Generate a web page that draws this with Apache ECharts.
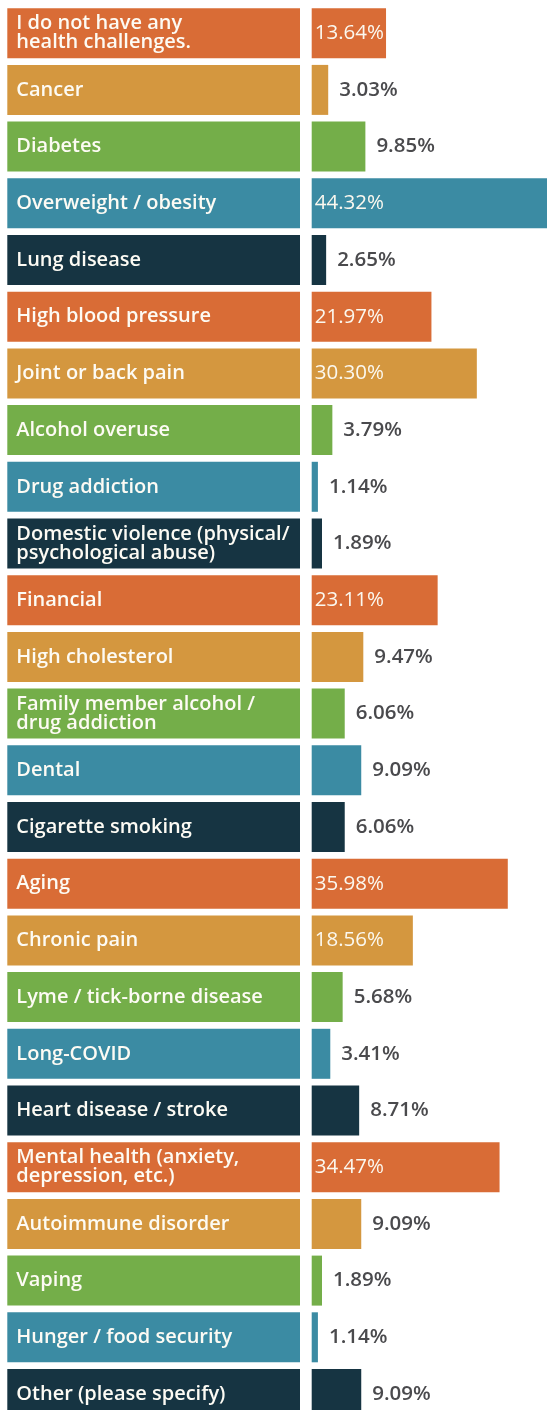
<!DOCTYPE html>
<html>
<head>
<meta charset="utf-8">
<script src="https://cdn.jsdelivr.net/npm/echarts@6/dist/echarts.min.js"></script>
<style>
  html, body { margin: 0; padding: 0; background: #ffffff; overflow: hidden; }
  /* the list runs a little past the bottom of the page, so the last row is cut */
  #chart { width: 547px; height: 1425px; }
</style>
</head>
<body>
<div id="chart"></div>
<script>
// Health challenges reported by respondents (share of respondents, %)
const categories = [
  'I do not have any\nhealth challenges.',
  'Cancer',
  'Diabetes',
  'Overweight / obesity',
  'Lung disease',
  'High blood pressure',
  'Joint or back pain',
  'Alcohol overuse',
  'Drug addiction',
  'Domestic violence (physical/\npsychological abuse)',
  'Financial',
  'High cholesterol',
  'Family member alcohol /\ndrug addiction',
  'Dental',
  'Cigarette smoking',
  'Aging',
  'Chronic pain',
  'Lyme / tick-borne disease',
  'Long-COVID',
  'Heart disease / stroke',
  'Mental health (anxiety,\ndepression, etc.)',
  'Autoimmune disorder',
  'Vaping',
  'Hunger / food security',
  'Other (please specify)'
];

const percentages = [
  13.64, 3.03, 9.85, 44.32, 2.65,
  21.97, 30.30, 3.79, 1.14, 1.89,
  23.11, 9.47, 6.06, 9.09, 6.06,
  35.98, 18.56, 5.68, 3.41, 8.71,
  34.47, 9.09, 1.89, 1.14, 9.09
];

// Row colours repeat in this order down the list
const palette = ['#D96C36', '#D4973F', '#74AE49', '#3B8BA3', '#163442'];

const FONT = '"Open Sans", "Noto Sans", sans-serif';
const rowColor = i => palette[i % palette.length];

// Wide bars carry their value inside, short bars to the right
const valueData = percentages.map((v, i) => ({
  value: v,
  itemStyle: { color: rowColor(i) },
  label: v > 12
    ? { position: 'insideLeft', distance: 3, color: '#FBF8EF', fontWeight: 500 }
    : { position: 'right', distance: 11, color: '#4A4A4D', fontWeight: 600 }
}));

// Full-width coloured tiles holding the category names
const tileData = categories.map((c, i) => ({
  value: 1,
  name: c,
  itemStyle: { color: rowColor(i) }
}));

const GRID_TOP = 4.85;
const GRID_H = 1417.5;
const BAR_LEFT = 311.7;
// 5.45 px per percentage point; the axis ends at the right edge of the page
const X_MAX = (547 - BAR_LEFT) / 5.45;

const chart = echarts.init(document.getElementById('chart'), null, { renderer: 'canvas' });
chart.setOption({
  backgroundColor: '#ffffff',
  animation: false,
  grid: [
    { left: 7.3, top: GRID_TOP, width: 292.7, height: GRID_H, containLabel: false },
    { left: BAR_LEFT, top: GRID_TOP, right: 0, height: GRID_H, containLabel: false }
  ],
  xAxis: [
    { gridIndex: 0, type: 'value', min: 0, max: 1, show: false },
    { gridIndex: 1, type: 'value', min: 0, max: X_MAX, show: false }
  ],
  yAxis: [
    { gridIndex: 0, type: 'category', data: categories, inverse: true, show: false },
    { gridIndex: 1, type: 'category', data: categories, inverse: true, show: false }
  ],
  series: [
    {
      type: 'bar',
      xAxisIndex: 0,
      yAxisIndex: 0,
      barWidth: 50,
      data: tileData,
      silent: true,
      label: {
        show: true,
        position: 'insideLeft',
        distance: 9,
        formatter: p => p.name,
        color: '#FDFBF4',
        fontFamily: FONT,
        fontSize: 20,
        fontWeight: 600,
        lineHeight: 19
      }
    },
    {
      type: 'bar',
      xAxisIndex: 1,
      yAxisIndex: 1,
      barWidth: 50,
      data: valueData,
      label: {
        show: true,
        fontFamily: FONT,
        fontSize: 20.5,
        formatter: p => p.value.toFixed(2) + '%'
      }
    }
  ]
});
</script>
</body>
</html>
